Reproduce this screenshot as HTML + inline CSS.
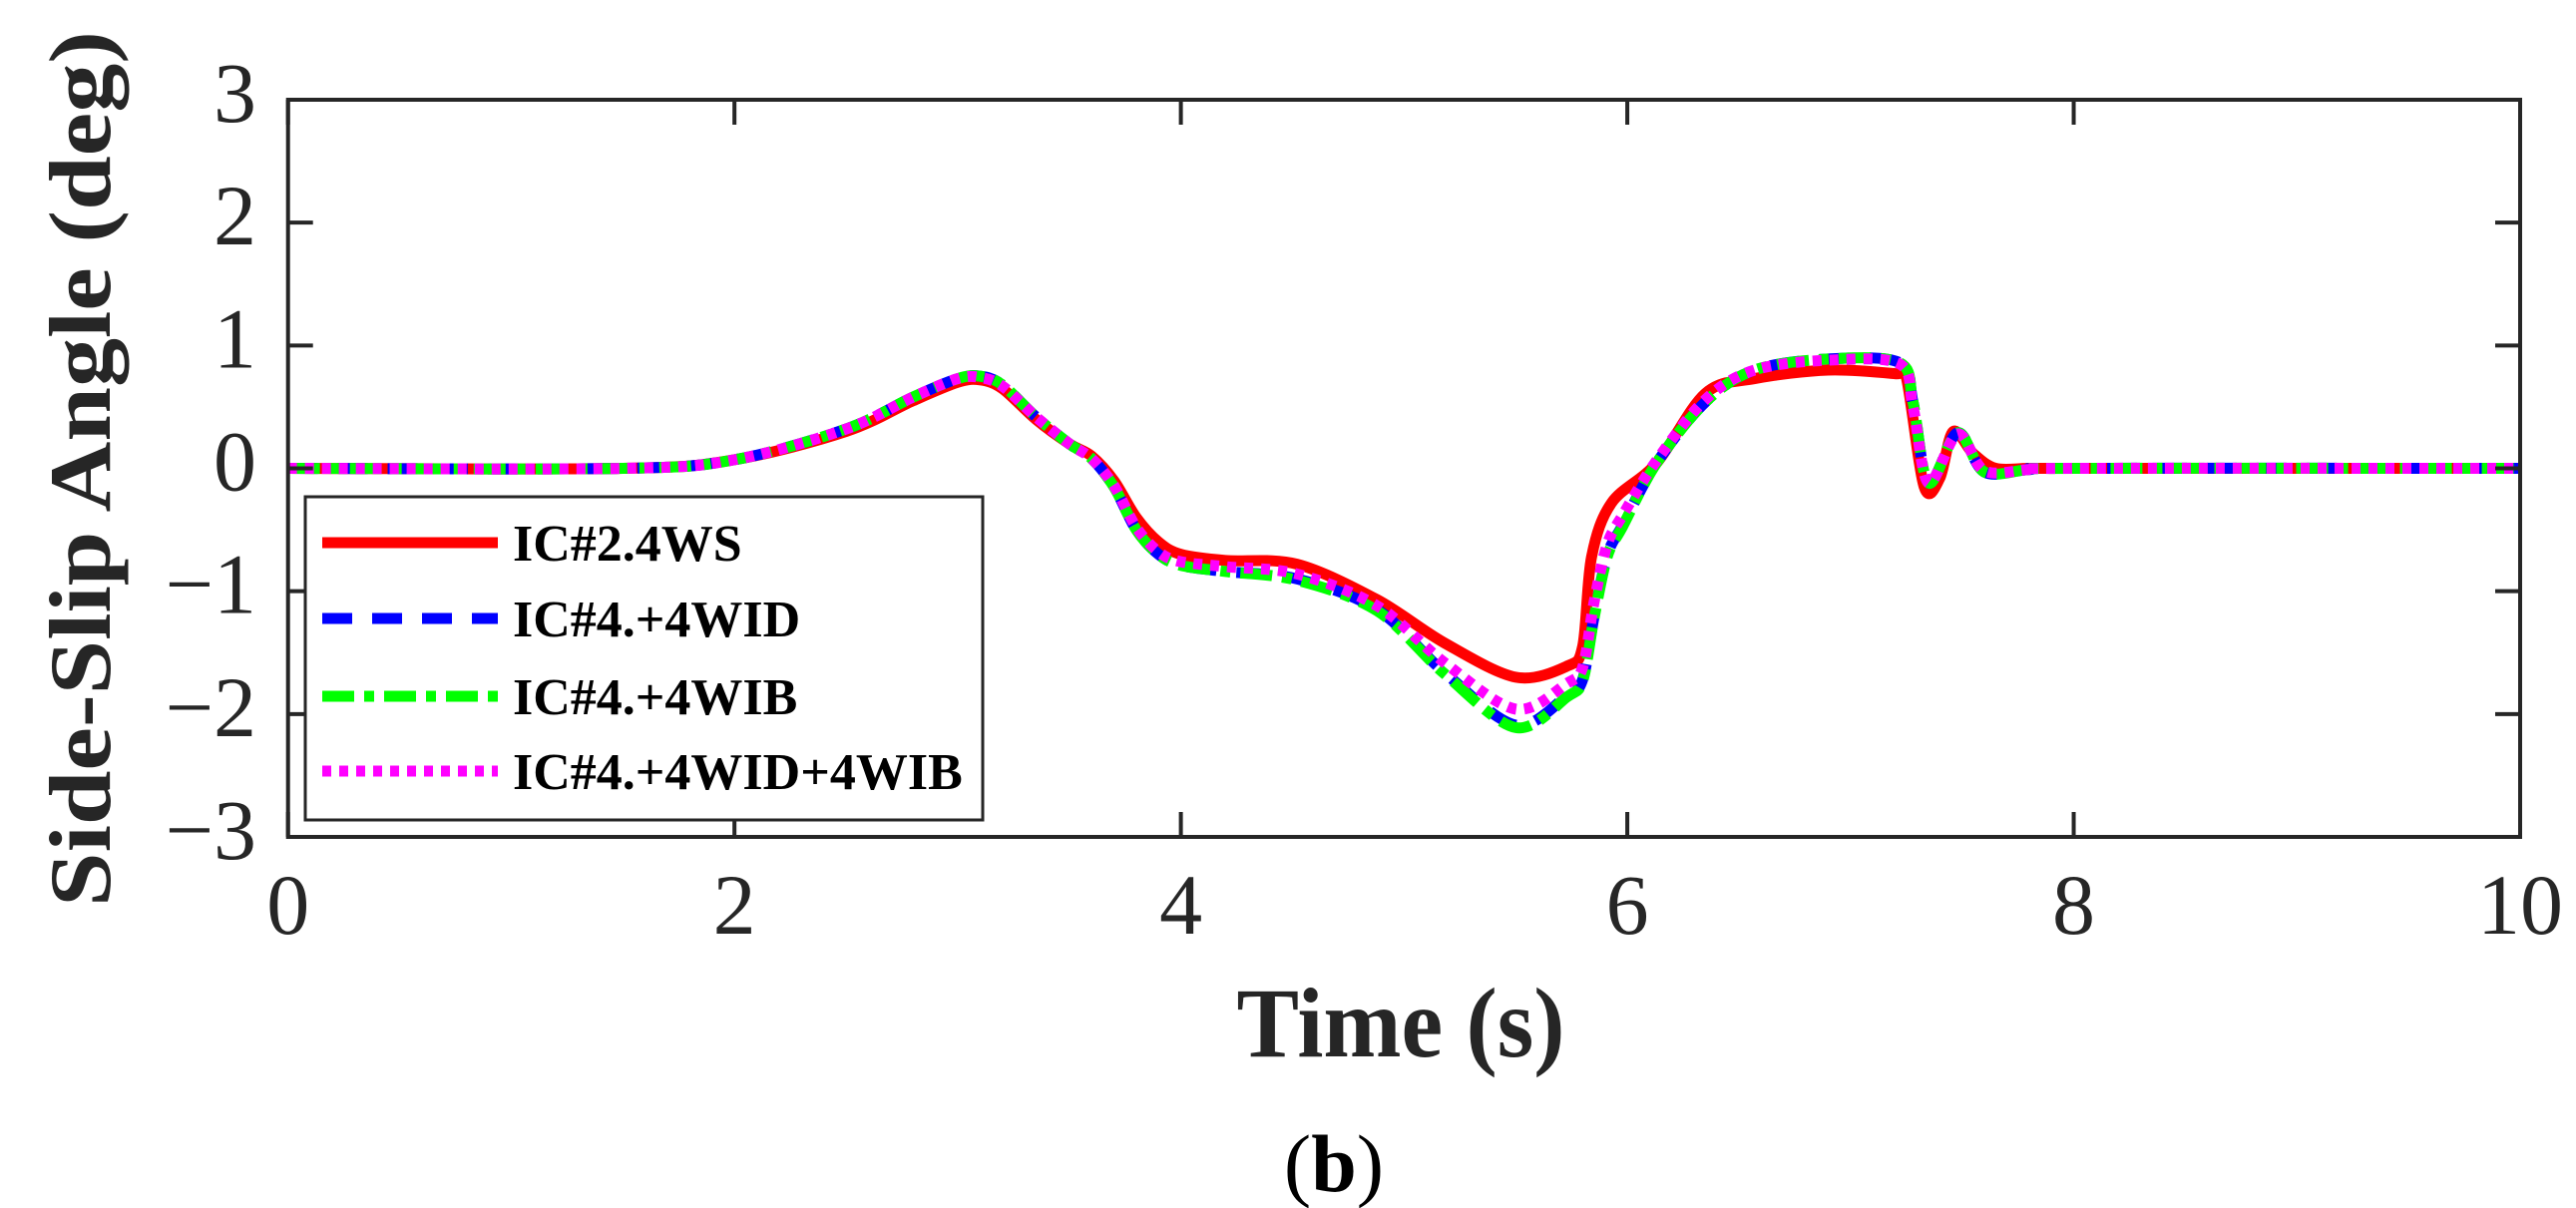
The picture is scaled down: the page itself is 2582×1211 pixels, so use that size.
<!DOCTYPE html>
<html><head><meta charset="utf-8"><style>
html,body{margin:0;padding:0;background:#fff;}
svg{display:block;font-family:"Liberation Serif",serif;}
</style></head><body>
<svg id="chart" width="2582" height="1211" viewBox="0 0 2582 1211">
<g id="series"></g>
<g id="axes"></g>
<text transform="translate(110,470) rotate(-90)" text-anchor="middle" font-size="88" font-weight="bold" fill="#262626" textLength="878" lengthAdjust="spacingAndGlyphs">Side-Slip Angle (deg)</text>
<text x="1404" y="1059" text-anchor="middle" font-size="100" font-weight="bold" fill="#262626" textLength="329" lengthAdjust="spacingAndGlyphs">Time (s)</text>
<text x="1337" y="1194" text-anchor="middle" font-size="82" fill="#000">(<tspan font-weight="bold">b</tspan>)</text>
<g id="legend"></g>
</svg>
<script>
const xTicks=[0,2,4,6,8,10];
const yTicks=[-3,-2,-1,0,1,2,3];
const yTickLabels=["\u22123","\u22122","\u22121","0","1","2","3"];
const seriesNames=["IC#2.4WS","IC#4.+4WID","IC#4.+4WIB","IC#4.+4WID+4WIB"];
const tRed=[0,1.5,2,2.5,2.8,3.0,3.1,3.2,3.35,3.5,3.6,3.7,3.8,3.9,4.0,4.2,4.52,4.88,5.18,5.5,5.73,5.8,5.84,5.93,6.13,6.35,6.57,6.9,7.2,7.25,7.33,7.4,7.46,7.55,7.65,7.8,8,10];
const vRed=[0,0,0.07,0.3,0.55,0.7,0.72,0.65,0.4,0.2,0.1,-0.1,-0.4,-0.6,-0.7,-0.75,-0.78,-1.07,-1.42,-1.70,-1.61,-1.45,-0.72,-0.28,0.04,0.61,0.73,0.8,0.77,0.74,-0.15,-0.08,0.3,0.12,0.0,0.0,0,0];
const tGreen=[0,1.5,2,2.5,2.8,3.0,3.1,3.2,3.35,3.5,3.6,3.7,3.8,3.9,4.0,4.2,4.52,4.88,5.18,5.5,5.73,5.8,5.85,5.91,5.98,6.13,6.35,6.57,6.9,7.22,7.28,7.35,7.48,7.6,7.8,8,10];
const vGreen=[0,0,0.07,0.32,0.58,0.73,0.75,0.68,0.42,0.2,0.08,-0.15,-0.5,-0.7,-0.79,-0.84,-0.91,-1.16,-1.67,-2.11,-1.86,-1.73,-1.23,-0.72,-0.47,0.04,0.54,0.8,0.89,0.86,0.54,-0.12,0.29,-0.03,-0.01,0,0];
const vBlue=[0,0,0.07,0.32,0.58,0.73,0.75,0.68,0.42,0.2,0.08,-0.15,-0.5,-0.7,-0.79,-0.84,-0.90,-1.15,-1.66,-2.09,-1.85,-1.72,-1.22,-0.71,-0.46,0.04,0.54,0.8,0.89,0.86,0.54,-0.12,0.29,-0.03,-0.01,0,0];
const vMag=[0,0,0.07,0.32,0.58,0.73,0.74,0.67,0.42,0.2,0.08,-0.14,-0.48,-0.68,-0.76,-0.8,-0.86,-1.12,-1.58,-1.96,-1.75,-1.62,-1.1,-0.62,-0.38,0.06,0.56,0.8,0.88,0.85,0.5,-0.12,0.28,-0.02,-0.01,0,0];

const X0=288.7,X1=2526,Y0=839,Y1=100;
const xs=v=>X0+(v-0)/(10-0)*(X1-X0);
const ys=v=>Y0-(v+3)/6*(Y0-Y1);
const NS="http://www.w3.org/2000/svg";
function mk(tag,attrs,parent){const e=document.createElementNS(NS,tag);for(const k in attrs)e.setAttribute(k,attrs[k]);parent.appendChild(e);return e;}
function pathD(t,v){
  const p=t.map((tt,i)=>[xs(tt),ys(v[i])]);
  let d="M"+p[0][0]+","+p[0][1];
  for(let i=0;i<p.length-1;i++){
    const a=p[Math.max(0,i-1)],b=p[i],c=p[i+1],e=p[Math.min(p.length-1,i+2)];
    const k=0.16;
    d+=" C"+(b[0]+(c[0]-a[0])*k)+","+(b[1]+(c[1]-a[1])*k)+" "+(c[0]-(e[0]-b[0])*k)+","+(c[1]-(e[1]-b[1])*k)+" "+c[0]+","+c[1];
  }
  return d;
}
const sg=document.getElementById('series');
const styles=[
 {c:"#ff0000",dash:"",t:tRed,v:vRed,n:"series-ic2-4ws"},
 {c:"#0000ff",dash:"30,20",t:tGreen,v:vBlue,n:"series-ic4-4wid"},
 {c:"#00ff00",dash:"32,10,10,10",t:tGreen,v:vGreen,n:"series-ic4-4wib"},
 {c:"#ff00ff",dash:"9,8",t:tGreen,v:vMag,n:"series-ic4-4wid-4wib"}];
styles.forEach(s=>{
  const p=mk('path',{d:pathD(s.t,s.v),fill:"none",stroke:s.c,"stroke-width":11,"stroke-dasharray":s.dash,"stroke-linejoin":"round"},sg);
  
  
});
const ax=document.getElementById('axes');
const frame=mk('rect',{x:X0,y:Y1,width:X1-X0,height:Y0-Y1,fill:"none",stroke:"#262626","stroke-width":4},ax);


xTicks.forEach(v=>{
  const x=xs(v);
  mk('line',{x1:x,y1:Y0,x2:x,y2:Y0-25,stroke:"#262626","stroke-width":4},ax);
  mk('line',{x1:x,y1:Y1,x2:x,y2:Y1+25,stroke:"#262626","stroke-width":4},ax);
  const t=mk('text',{x:x,y:936,"text-anchor":"middle","font-size":86,fill:"#262626"},ax);
  t.textContent=String(v);
  
  
});
yTicks.forEach((v,i)=>{
  const y=ys(v);
  mk('line',{x1:X0,y1:y,x2:X0+25,y2:y,stroke:"#262626","stroke-width":4},ax);
  mk('line',{x1:X1,y1:y,x2:X1-25,y2:y,stroke:"#262626","stroke-width":4},ax);
  const t=mk('text',{x:257,y:y+22,"text-anchor":"end","font-size":86,fill:"#262626"},ax);
  t.textContent=yTickLabels[i];
  
  
});
const lg=document.getElementById('legend');
const box=mk('rect',{x:306,y:498,width:679,height:324,fill:"#fff",stroke:"#262626","stroke-width":3},lg);


const ly=[544,620,698,773];
styles.forEach((s,i)=>{
  const l=mk('line',{x1:323,y1:ly[i],x2:499,y2:ly[i],stroke:s.c,"stroke-width":11,"stroke-dasharray":s.dash},lg);
  
  
  const t=mk('text',{x:514,y:ly[i]+18,"font-size":52,"font-weight":"bold",fill:"#000"},lg);
  t.textContent=seriesNames[i];
  
  
});
</script>
</body></html>
